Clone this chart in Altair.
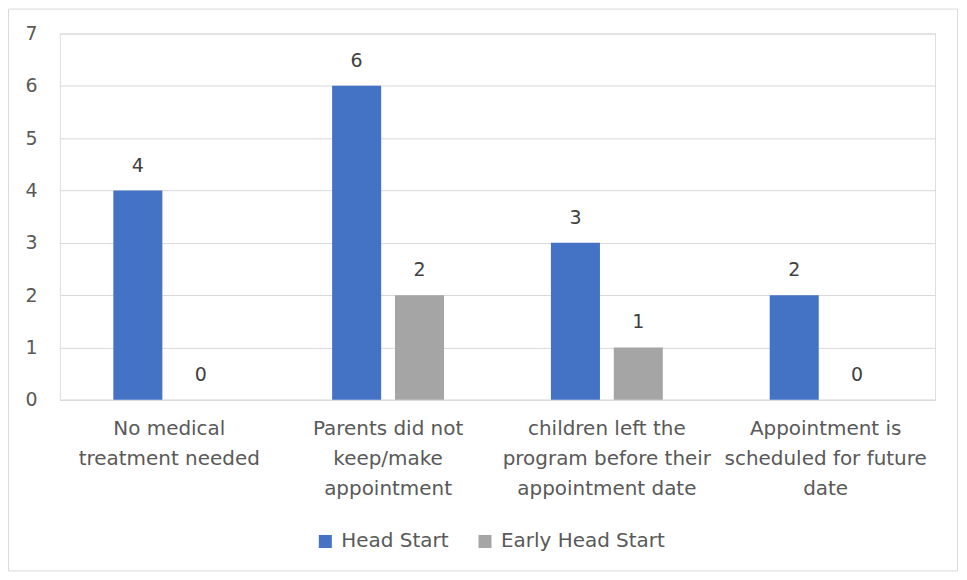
import altair as alt
import pandas as pd

categories = [
    "No medical treatment needed",
    "Parents did not keep/make appointment",
    "children left the program before their appointment date",
    "Appointment is scheduled for future date",
]
label_lines = [
    ["No medical", "treatment needed"],
    ["Parents did not", "keep/make", "appointment"],
    ["children left the", "program before their", "appointment date"],
    ["Appointment is", "scheduled for future", "date"],
]
series = ["Head Start", "Early Head Start"]
head_start = [4, 6, 3, 2]
early_head_start = [0, 2, 1, 0]
colors = ["#4472C4", "#A5A5A5"]
y_ticks = [0, 1, 2, 3, 4, 5, 6, 7]

rows = []
for c, a, b in zip(categories, head_start, early_head_start):
    rows.append({"category": c, "series": series[0], "value": a})
    rows.append({"category": c, "series": series[1], "value": b})
df = pd.DataFrame(rows)

label_map = "{" + ",".join(
    "'" + c + "':[" + ",".join("'" + l + "'" for l in ls) + "]"
    for c, ls in zip(categories, label_lines)
) + "}"

FONT = "DejaVu Sans"

x = alt.X(
    "category:N",
    sort=categories,
    scale=alt.Scale(paddingInner=0, paddingOuter=0),
    axis=alt.Axis(
        title=None,
        labelAngle=0,
        ticks=False,
        domainColor="#d9d9d9",
        domainWidth=1,
        labelFontSize=20,
        labelColor="#595959",
        labelFont=FONT,
        labelPadding=19,
        labelLineHeight=30,
        labelBaseline="top",
        labelLimit=0,
        labelExpr=label_map + "[datum.value]",
    ),
)
xo = alt.XOffset(
    "series:N",
    sort=series,
    scale=alt.Scale(paddingInner=0.22, paddingOuter=0.85),
)
y = alt.Y(
    "value:Q",
    scale=alt.Scale(domain=[0, 7], nice=False),
    axis=alt.Axis(
        title=None,
        values=y_ticks,
        domain=False,
        ticks=False,
        gridColor="#d9d9d9",
        gridWidth=1,
        labelFontSize=19,
        labelColor="#595959",
        labelFont=FONT,
        labelPadding=23,
    ),
)

bars = alt.Chart(df).mark_bar().encode(
    x=x,
    xOffset=xo,
    y=y,
    color=alt.Color(
        "series:N",
        sort=series,
        scale=alt.Scale(domain=series, range=colors),
        legend=alt.Legend(
            title=None,
            orient="none",
            direction="horizontal",
            legendX=256,
            legendY=499,
            symbolType="square",
            symbolSize=170,
            symbolStrokeWidth=0,
            labelFontSize=20,
            labelColor="#595959",
            labelFont=FONT,
            columnPadding=26,
            labelOffset=6,
            labelLimit=0,
        ),
    ),
)

texts = alt.Chart(df).mark_text(
    baseline="alphabetic", dy=-19, fontSize=19, color="#404040", font=FONT
).encode(
    x=x,
    xOffset=xo,
    y=y,
    text=alt.Text("value:Q"),
)

border = alt.Chart(alt.Data(values=[{}])).mark_rect(
    fill=None, stroke="#d9d9d9", strokeWidth=1
).encode(
    x=alt.value(-51.5),
    x2=alt.value(899.5),
    y=alt.value(-24.5),
    y2=alt.value(538.5),
)

chart = alt.layer(border, bars, texts).properties(
    width=877,
    height=367,
    autosize=alt.AutoSizeParams(type="none"),
    padding={"left": 52, "top": 25, "right": 24, "bottom": 172},
).configure_view(stroke=None).configure(background="white")

chart.save("out.html", embed_options={"renderer": "svg", "actions": False})
